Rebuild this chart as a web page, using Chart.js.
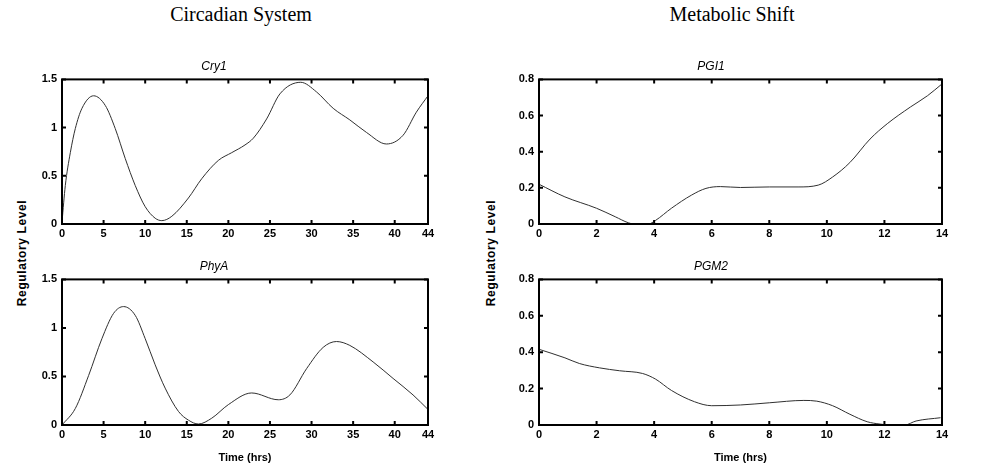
<!DOCTYPE html>
<html>
<head>
<meta charset="utf-8">
<script src="https://cdn.jsdelivr.net/npm/chart.js@4.4.1/dist/chart.umd.min.js"></script>
<style>
  body { margin: 0; background: #fff; }
  #page { position: relative; width: 992px; height: 471px; overflow: hidden; }
  canvas { position: absolute; }
  .head { position: absolute; top: 3px; font: 20px "Liberation Serif", "Times New Roman", serif; color: #000; transform: translateX(-50%); white-space: nowrap; }
  .ylab { position: absolute; font: bold 12px "Liberation Sans", Arial, sans-serif; letter-spacing: 0.6px; color: #000; white-space: nowrap;
          transform: translate(-50%, -50%) rotate(-90deg); }
</style>
</head>
<body>
<div id="page">
  <div class="head" style="left:241px">Circadian System</div>
  <div class="head" style="left:732px">Metabolic Shift</div>
  <div class="ylab" style="left:22px; top:253px">Regulatory Level</div>
  <div class="ylab" style="left:491px; top:253px">Regulatory Level</div>
  <canvas id="cry1" width="445" height="190" style="left:0; top:55px"></canvas>
  <canvas id="phya" width="445" height="216" style="left:0; top:255px"></canvas>
  <canvas id="pgi1" width="512" height="190" style="left:480px; top:55px"></canvas>
  <canvas id="pgm2" width="512" height="216" style="left:480px; top:255px"></canvas>
</div>
<script>
// values
const cry1Time  = [0, 0.4, 1.0, 1.6, 2.4, 3.8, 5.2, 6.4, 7.6, 8.8, 10, 11.2, 12, 13.2, 15.2, 16.8, 18.8, 20.4, 22, 23, 24.6, 26.2, 28.7, 30.6, 32.6, 34.6, 36.6, 39, 41, 42.6, 44];
const cry1Level = [0.02, 0.40, 0.74, 0.99, 1.20, 1.33, 1.23, 0.99, 0.68, 0.40, 0.18, 0.06, 0.035, 0.08, 0.27, 0.47, 0.66, 0.74, 0.82, 0.89, 1.09, 1.35, 1.47, 1.37, 1.20, 1.08, 0.95, 0.83, 0.92, 1.16, 1.33];

const phyaTime  = [0, 1.6, 3.2, 4.8, 6.2, 7.4, 8.8, 10, 11.2, 12.4, 14, 15.2, 16.4, 18, 20, 22.8, 26, 27.4, 29.4, 31.4, 33, 34.6, 37.4, 39.8, 42.2, 44];
const phyaLevel = [0, 0.17, 0.51, 0.89, 1.15, 1.22, 1.13, 0.89, 0.62, 0.38, 0.14, 0.05, 0.01, 0.07, 0.21, 0.33, 0.26, 0.31, 0.58, 0.80, 0.86, 0.82, 0.65, 0.48, 0.31, 0.16];

const pgi1Time  = [0, 0.9, 2.0, 2.65, 3.1, 3.3, 3.8, 4.05, 4.6, 5.3, 5.8, 6.3, 7.0, 8.0, 9.0, 9.7, 10.2, 10.8, 11.5, 12.1, 12.9, 13.5, 14];
const pgi1Level = [0.22, 0.15, 0.087, 0.04, 0.007, 0, 0, 0.02, 0.087, 0.16, 0.197, 0.207, 0.202, 0.205, 0.205, 0.215, 0.26, 0.34, 0.47, 0.555, 0.647, 0.71, 0.775];

const pgm2Time  = [0, 0.9, 1.4, 2.1, 2.8, 3.6, 4.05, 4.6, 5.4, 6.0, 7.0, 8.0, 9.2, 9.65, 10.2, 10.8, 11.4, 11.85, 12.2, 12.7, 13.1, 13.95];
const pgm2Level = [0.416, 0.369, 0.338, 0.314, 0.298, 0.283, 0.252, 0.19, 0.128, 0.106, 0.11, 0.122, 0.135, 0.131, 0.106, 0.059, 0.018, 0.005, 0, 0, 0.022, 0.04];

const circTicksX = [0, 5, 10, 15, 20, 25, 30, 35, 40, 44];
const circTicksY = [0, 0.5, 1, 1.5];
const metaTicksX = [0, 2, 4, 6, 8, 10, 12, 14];
const metaTicksY = [0, 0.2, 0.4, 0.6, 0.8];

const tickFont = { family: 'Liberation Sans', size: 11, weight: 'bold' };

// matlab style box with inward ticks on all sides
const frame = {
  id: 'frame',
  afterDraw(chart) {
    const { ctx, chartArea: a, scales: { x, y } } = chart;
    ctx.save();
    ctx.strokeStyle = '#000';
    ctx.lineWidth = 2;
    ctx.beginPath();
    x.ticks.forEach(t => {
      const px = x.getPixelForValue(t.value);
      ctx.moveTo(px, a.bottom); ctx.lineTo(px, a.bottom - 4);
      ctx.moveTo(px, a.top); ctx.lineTo(px, a.top + 4);
    });
    y.ticks.forEach(t => {
      const py = y.getPixelForValue(t.value);
      ctx.moveTo(a.left, py); ctx.lineTo(a.left + 4, py);
      ctx.moveTo(a.right, py); ctx.lineTo(a.right - 4, py);
    });
    ctx.stroke();
    ctx.strokeRect(a.left, a.top, a.right - a.left, a.bottom - a.top);
    ctx.restore();
  }
};

function plot(id, name, times, levels, ticksX, ticksY, yWidth, rightPad, xHeight, xTitle) {
  new Chart(document.getElementById(id), {
    type: 'line',
    data: {
      datasets: [{
        data: times.map((t, i) => ({ x: t, y: levels[i] })),
        borderColor: '#303030',
        borderWidth: 1,
        pointRadius: 0,
        cubicInterpolationMode: 'monotone',
        fill: false
      }]
    },
    options: {
      responsive: false,
      animation: false,
      layout: { padding: { top: 4, right: rightPad, left: 0, bottom: xTitle ? 6 : 0 } },
      plugins: {
        legend: { display: false },
        tooltip: { enabled: false },
        title: {
          display: true,
          text: name,
          color: '#000',
          font: { family: 'Liberation Sans', size: 12, style: 'italic', weight: 'normal' },
          padding: { top: 0, bottom: 6 }
        }
      },
      scales: {
        x: {
          type: 'linear',
          min: ticksX[0],
          max: ticksX[ticksX.length - 1],
          afterBuildTicks: s => { s.ticks = ticksX.map(v => ({ value: v })); },
          afterFit: s => { s.height = xHeight; },
          grid: { display: false, drawTicks: false },
          border: { display: false },
          ticks: { color: '#000', font: tickFont, padding: 3, maxRotation: 0, autoSkip: false, callback: v => String(v) },
          title: { display: !!xTitle, text: xTitle, color: '#000', font: tickFont, padding: 0 }
        },
        y: {
          type: 'linear',
          min: ticksY[0],
          max: ticksY[ticksY.length - 1],
          afterBuildTicks: s => { s.ticks = ticksY.map(v => ({ value: v })); },
          afterFit: s => { s.width = yWidth; },
          grid: { display: false, drawTicks: false },
          border: { display: false },
          ticks: { color: '#000', font: tickFont, padding: 5, autoSkip: false, callback: v => String(v) }
        }
      }
    },
    plugins: [frame]
  });
}

plot('cry1', 'Cry1', cry1Time, cry1Level, circTicksX, circTicksY, 62, 17, 21, '');
plot('phya', 'PhyA', phyaTime, phyaLevel, circTicksX, circTicksY, 62, 17, 40, 'Time (hrs)');
plot('pgi1', 'PGI1', pgi1Time, pgi1Level, metaTicksX, metaTicksY, 59, 50, 21, '');
plot('pgm2', 'PGM2', pgm2Time, pgm2Level, metaTicksX, metaTicksY, 59, 50, 40, 'Time (hrs)');
</script>
</body>
</html>
